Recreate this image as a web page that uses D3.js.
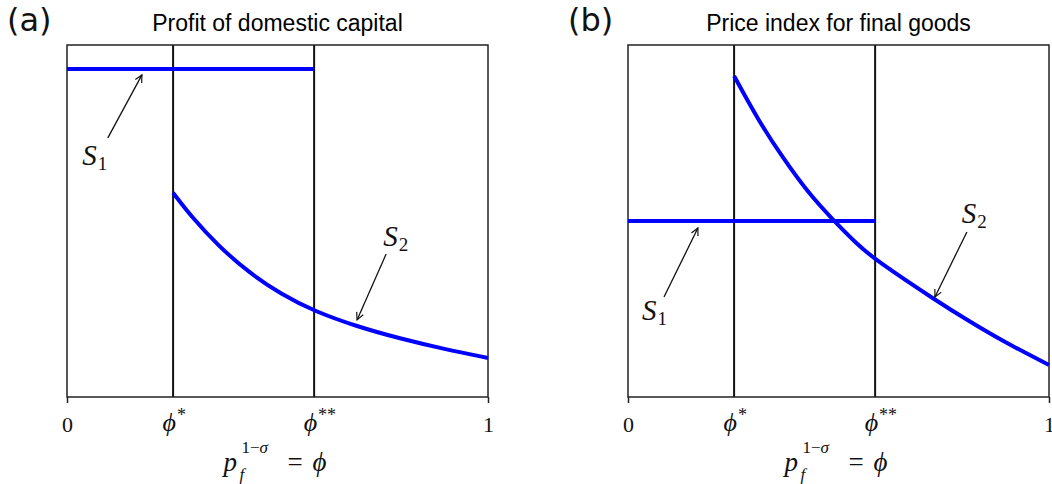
<!DOCTYPE html>
<html>
<head>
<meta charset="utf-8">
<script src="https://cdn.jsdelivr.net/npm/d3@7"></script>
<style>
  html, body { margin: 0; padding: 0; background: #fff; }
  svg { display: block; }
  .title { font-family: "Liberation Sans", Arial, sans-serif; font-size: 23px; fill: #000; }
  .panel-tag { font-family: "DejaVu Sans", sans-serif; font-size: 32px; fill: #111; }
  .math { font-family: "Liberation Serif", "DejaVu Serif", serif; fill: #111; }
</style>
</head>
<body>
<svg id="chart" width="1052" height="484"></svg>
<script>
// Thresholds on the phi axis
const phiStar = 0.252;
const phiStarStar = 0.587;

// Panel (a): profit of domestic capital
const profitS1Phi = [0, phiStarStar];
const profitS1Value = [0.932, 0.932];
const profitS2Phi = [0.252, 0.297, 0.359, 0.430, 0.511, 0.587, 0.689, 0.791, 0.893, 1.0];
const profitS2Value = [0.580, 0.510, 0.430, 0.355, 0.290, 0.244, 0.200, 0.166, 0.137, 0.111];

// Panel (b): price index for final goods
const priceS1Phi = [0, phiStarStar];
const priceS1Value = [0.500, 0.500];
const priceS2Phi = [0.252, 0.309, 0.368, 0.428, 0.487, 0.546, 0.587, 0.734, 0.812, 0.891, 1.0];
const priceS2Value = [0.912, 0.787, 0.679, 0.580, 0.503, 0.432, 0.390, 0.272, 0.214, 0.158, 0.091];

// Axis tick values and labels
const tickValues = [0, phiStar, phiStarStar, 1];
const tickNames = ["0", "ϕ", "ϕ", "1"];
const tickStars = ["", "*", "**", ""];

const panels = [
  {
    tag: "(a)", title: "Profit of domestic capital", left: 67,
    s1: [profitS1Phi, profitS1Value], s2: [profitS2Phi, profitS2Value],
    notes: [
      { name: "S", sub: "1", at: [0.036, 0.659], from: [0.097, 0.736], to: [0.178, 0.915] },
      { name: "S", sub: "2", at: [0.751, 0.428], from: [0.758, 0.406], to: [0.689, 0.219] }
    ]
  },
  {
    tag: "(b)", title: "Price index for final goods", left: 628,
    s1: [priceS1Phi, priceS1Value], s2: [priceS2Phi, priceS2Value],
    notes: [
      { name: "S", sub: "1", at: [0.033, 0.219], from: [0.0855, 0.284], to: [0.166, 0.480] },
      { name: "S", sub: "2", at: [0.793, 0.494], from: [0.805, 0.469], to: [0.729, 0.284] }
    ]
  }
];

const svg = d3.select("#chart");
const plotTop = 45, plotBottom = 397, plotWidth = 421;

svg.append("defs").append("marker")
  .attr("id", "arrowhead")
  .attr("viewBox", "0 0 10 10")
  .attr("refX", 9).attr("refY", 5)
  .attr("markerWidth", 9).attr("markerHeight", 9)
  .attr("markerUnits", "userSpaceOnUse")
  .attr("orient", "auto")
  .append("path")
  .attr("d", "M1,1 L9,5 L1,9")
  .attr("fill", "none")
  .attr("stroke", "#111")
  .attr("stroke-width", 1.3);

panels.forEach(p => {
  const x = d3.scaleLinear().domain([0, 1]).range([p.left, p.left + plotWidth]);
  const y = d3.scaleLinear().domain([0, 1]).range([plotBottom, plotTop]);
  const g = svg.append("g");
  const cx = p.left + plotWidth / 2;

  // Panel tag and title
  g.append("text").attr("class", "panel-tag")
    .attr("x", p.left - 60).attr("y", 31).text(p.tag);
  g.append("text").attr("class", "title")
    .attr("x", cx).attr("y", 31).attr("text-anchor", "middle").text(p.title);

  // Threshold lines
  [phiStar, phiStarStar].forEach(v => {
    g.append("line")
      .attr("x1", x(v)).attr("x2", x(v))
      .attr("y1", plotTop).attr("y2", plotBottom)
      .attr("stroke", "#111").attr("stroke-width", 2);
  });

  // Frame
  g.append("rect")
    .attr("x", x(0)).attr("y", plotTop)
    .attr("width", x(1) - x(0)).attr("height", plotBottom - plotTop)
    .attr("fill", "none").attr("stroke", "#222").attr("stroke-width", 1.5);

  // Bottom axis
  const axis = d3.axisBottom(x)
    .tickValues(tickValues)
    .tickSizeInner(6).tickSizeOuter(0)
    .tickFormat("");
  const ax = g.append("g").attr("transform", `translate(0,${plotBottom})`).call(axis);
  ax.select(".domain").remove();
  ax.selectAll(".tick line")
    .attr("stroke", "#222").attr("stroke-width", 1.5)
    .attr("opacity", (d, i) => (tickStars[i] === "" ? 1 : 0));
  ax.selectAll(".tick").each(function (d, i) {
    const t = d3.select(this).append("text")
      .attr("class", "math")
      .attr("fill", "#111")
      .attr("y", 35)
      .attr("font-size", 22)
      .attr("text-anchor", "middle");
    if (tickStars[i] === "") {
      t.text(tickNames[i]);
    } else {
      t.attr("text-anchor", "start").attr("x", -11).attr("y", 34);
      t.append("tspan").attr("font-style", "italic").attr("font-size", 26).text(tickNames[i]);
      t.append("tspan").attr("font-size", 18).attr("dy", -10).attr("dx", 1).text(tickStars[i]);
    }
  });

  // Axis title: p_f^{1-σ} = ϕ
  const at = g.append("text").attr("class", "math").attr("font-size", 27);
  at.append("tspan").attr("x", cx - 54).attr("y", 471).attr("font-style", "italic").text("p");
  at.append("tspan").attr("x", cx - 38).attr("y", 480).attr("font-size", 17).attr("font-style", "italic").text("f");
  at.append("tspan").attr("x", cx - 36).attr("y", 453).attr("font-size", 17).text("1−");
  at.append("tspan").attr("font-size", 17).attr("font-style", "italic").text("σ");
  at.append("tspan").attr("x", cx + 10).attr("y", 471).text("=");
  at.append("tspan").attr("x", cx + 35).attr("y", 471).attr("font-style", "italic").text("ϕ");

  // Curves
  const line = d3.line()
    .x(d => x(d[0])).y(d => y(d[1]))
    .curve(d3.curveBasis);
  [p.s1, p.s2].forEach(s => {
    const pts = d3.zip(s[0], s[1]);
    g.append("path")
      .attr("d", line(pts))
      .attr("fill", "none")
      .attr("stroke", "#0000ff")
      .attr("stroke-width", 4);
  });

  // Annotation arrows and labels
  p.notes.forEach(n => {
    g.append("line")
      .attr("x1", x(n.from[0])).attr("y1", y(n.from[1]))
      .attr("x2", x(n.to[0])).attr("y2", y(n.to[1]))
      .attr("stroke", "#111").attr("stroke-width", 1.3)
      .attr("marker-end", "url(#arrowhead)");
    const t = g.append("text").attr("class", "math")
      .attr("x", x(n.at[0])).attr("y", y(n.at[1]))
      .attr("font-size", 29);
    t.append("tspan").attr("font-style", "italic").text(n.name);
    t.append("tspan").attr("font-size", 19).attr("dy", 5).attr("dx", 1).text(n.sub);
  });
});
</script>
</body>
</html>
